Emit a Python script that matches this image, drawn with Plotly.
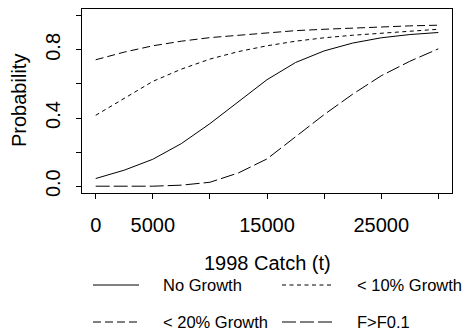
import plotly.graph_objects as go

catch = [0, 2500, 5000, 7500, 10000, 12500, 15000, 17500, 20000, 22500, 25000, 27500, 30000]
no_growth = [0.045, 0.094, 0.158, 0.25, 0.367, 0.498, 0.625, 0.726, 0.794, 0.84, 0.871, 0.89, 0.902]
lt10_growth = [0.416, 0.517, 0.615, 0.687, 0.746, 0.79, 0.824, 0.851, 0.871, 0.886, 0.898, 0.91, 0.921]
lt20_growth = [0.742, 0.787, 0.824, 0.851, 0.872, 0.886, 0.902, 0.913, 0.921, 0.929, 0.937, 0.941, 0.945]
f_gt_f01 = [0.0, 0.0, 0.0, 0.006, 0.023, 0.078, 0.16, 0.29, 0.42, 0.54, 0.648, 0.733, 0.806]

series_names = ["No Growth", "< 10% Growth", "< 20% Growth", "F>F0.1"]
series_values = [no_growth, lt10_growth, lt20_growth, f_gt_f01]
series_dash = ["solid", "4px,3.5px", "8px,4px", "14px,4px"]

x_tickvals = [0, 5000, 10000, 15000, 20000, 25000, 30000]
x_ticktext = ["0", "5000", "", "15000", "", "25000", ""]
y_tickvals = [0.0, 0.2, 0.4, 0.6, 0.8, 1.0]
y_ticktext = ["0.0", "", "0.4", "", "0.8", ""]

W, H = 463, 331
L, R, T, B = 82, 452, 9, 193
FONT = "Liberation Sans, Arial, sans-serif"

def px_x(p):
    return (p - L) / (R - L)

def px_y(p):
    return (B - p) / (B - T)

fig = go.Figure()
for name, vals, dash in zip(series_names, series_values, series_dash):
    fig.add_trace(go.Scatter(x=catch, y=vals, mode="lines", name=name,
                             line=dict(color="black", width=1, dash=dash),
                             showlegend=False))

axis_common = dict(showline=True, linecolor="black", linewidth=1, mirror=True,
                   ticks="outside", ticklen=5, tickcolor="black", tickwidth=1,
                   showgrid=False, zeroline=False,
                   tickfont=dict(family=FONT, size=20, color="black"))

fig.update_xaxes(range=[-1200, 31200], tickvals=x_tickvals, ticktext=x_ticktext,
                 ticklabelstandoff=9, **axis_common)
fig.update_yaxes(range=[-0.04, 1.04], tickvals=y_tickvals, ticktext=y_ticktext,
                 tickangle=-90, ticklabelstandoff=8, **axis_common)

annotations = [
    dict(text="1998 Catch (t)", x=0.5, y=px_y(263), xref="paper", yref="paper",
         xanchor="center", yanchor="middle", showarrow=False,
         font=dict(family=FONT, size=20, color="black")),
    dict(text="Probability", x=px_x(19), y=0.5, xref="paper", yref="paper",
         xanchor="center", yanchor="middle", showarrow=False, textangle=-90,
         font=dict(family=FONT, size=20, color="black")),
]
shapes = []
leg_rows = [285, 322]
leg_cols = [(93, 139, 161), (282, 333, 355)]
for i, (name, dash) in enumerate(zip(series_names, series_dash)):
    r, c = divmod(i, 2)
    x0, x1, xt = leg_cols[c]
    yy = px_y(leg_rows[r])
    shapes.append(dict(type="line", xref="paper", yref="paper",
                       x0=px_x(x0), x1=px_x(x1), y0=yy, y1=yy,
                       line=dict(color="black", width=1, dash=dash)))
    annotations.append(dict(text=name, x=px_x(xt), y=yy, xref="paper", yref="paper",
                            xanchor="left", yanchor="middle", showarrow=False,
                            font=dict(family=FONT, size=16.5, color="black")))

fig.update_layout(width=W, height=H, margin=dict(l=L, r=W - R, t=T, b=H - B),
                  plot_bgcolor="white", paper_bgcolor="white",
                  annotations=annotations, shapes=shapes, showlegend=False)

fig.write_html("out.html")
